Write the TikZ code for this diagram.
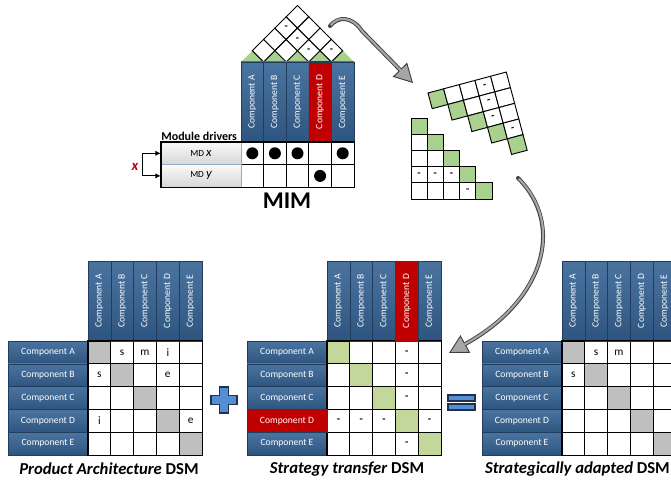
\documentclass[tikz,border=0pt]{standalone}
\usepackage{fontspec}
\setmainfont{Carlito}
\usetikzlibrary{arrows.meta,positioning,calc}
\definecolor{hdrtop}{RGB}{74,116,160}
\definecolor{hdrbot}{RGB}{46,85,127}
\definecolor{hdrline}{RGB}{33,60,92}
\definecolor{hdrred}{RGB}{192,0,0}
\definecolor{roofgreen}{RGB}{169,208,142}
\definecolor{diaggreen}{RGB}{196,215,155}
\definecolor{diaggray}{RGB}{191,191,191}
\definecolor{signblue}{RGB}{85,142,213}
\definecolor{signline}{RGB}{30,50,80}
\definecolor{arrowgray}{RGB}{166,166,166}
\begin{document}
\begin{tikzpicture}[x=0.75pt, y=-0.75pt,
    hdr/.style={draw=hdrline, line width=0.4pt, top color=hdrtop, bottom color=hdrbot,
                text=white, font=\fontsize{7.2}{8}\selectfont, inner sep=0pt},
    colhdr/.style={hdr, rotate=90, minimum width=60pt, minimum height=17.1pt},
    rowhdr/.style={hdr, minimum width=60pt, minimum height=17.1pt},
    redhdr/.style={top color=hdrred, bottom color=hdrred},
    mdhdr/.style={draw=hdrtop!60, line width=0.4pt, top color=gray!4, bottom color=gray!32,
                  minimum width=60pt, minimum height=16.95pt, inner sep=0pt,
                  font=\fontsize{7}{8}\selectfont},
    cell/.style={draw, line width=0.7pt, minimum size=17.1pt, inner sep=0pt},
    mimcell/.style={cell, fill=white, minimum size=16.95pt},
    smallcell/.style={draw, line width=0.7pt, minimum size=12.15pt, inner sep=0pt},
    frame/.style={draw, line width=1.2pt},
    roofcell/.style={draw, line width=0.7pt, fill=white},
    entry/.style={font=\fontsize{8.5}{9}\selectfont, inner sep=0pt},
    dashmark/.style={font=\bfseries\fontsize{8}{9}\selectfont, inner sep=0pt},
    dot/.style={circle, fill=black, minimum size=9pt, inner sep=0pt},
    bracket/.style={{Latex[length=4pt,width=4pt]}-{Latex[length=4pt,width=4pt]}, line width=0.9pt},
    caption/.style={font=\bfseries\fontsize{12.5}{15}\selectfont, inner sep=0pt},
    sign/.style={draw=signline, line width=0.8pt, fill=signblue},
    arrowout/.style={draw=black!75, line width=3pt, line cap=round,
                     -{Triangle[length=14pt, width=15pt, fill=arrowgray, line width=0.7pt]}},
    arrowin/.style={draw=arrowgray, line width=1.6pt, shorten <=0.8pt, shorten >=13pt}
  ]
  \clip (0,0) rectangle (671,481);

  \foreach \m/\xo/\dc in {p/88/diaggray, s/327/diaggreen, a/562/diaggray}{
    \foreach \n [count=\i] in {A,...,E}{
      \node[colhdr] (\m c-\i) at (\xo+22.8*\i-11.4,301) {Component \n};
      \node[rowhdr] (\m r-\i) at (\xo-40,341+22.8*\i-11.4) {Component \n};
      \foreach \c in {1,...,5}{
        \ifnum\i=\c\relax\def\cf{\dc}\else\def\cf{white}\fi
        \node[cell, fill=\cf] (\m-\i-\c) at (\xo+22.8*\c-11.4,341+22.8*\i-11.4) {};
      }
    }
    \draw[frame] (\m-1-1.north west) rectangle (\m-5-5.south east);
  }
  \node[colhdr, redhdr] (sc-4) at (sc-4) {Component D};
  \node[rowhdr, redhdr] (sr-4) at (sr-4) {Component D};

  \foreach \r/\c/\t in {1/2/s, 1/3/m, 1/4/i, 2/1/s, 2/4/e, 4/1/i, 4/5/e}
    \node[entry] (pt-\r-\c) at (p-\r-\c) {\t};
  \foreach \r/\c in {1/4, 2/4, 3/4, 5/4, 4/1, 4/2, 4/3, 4/5}
    \node[dashmark] (st-\r-\c) at (s-\r-\c) {-};
  \foreach \r/\c/\t in {1/2/s, 1/3/m, 2/1/s}
    \node[entry] (at-\r-\c) at (a-\r-\c) {\t};

  \node[caption] (pcap) at (109,469) {\textit{Product Architecture} DSM};
  \node[caption] (scap) at (347,469) {\textit{Strategy transfer} DSM};
  \node[caption, anchor=east] (acap) at (670,469) {\textit{Strategically adapted} DSM};

  \draw[sign] (219.5,387) -- ++(9,0) -- ++(0,8.5) -- ++(8.5,0) -- ++(0,9) -- ++(-8.5,0)
    -- ++(0,8.5) -- ++(-9,0) -- ++(0,-8.5) -- ++(-8.5,0) -- ++(0,-9) -- ++(8.5,0) -- cycle;
  \draw[sign] (448,395) rectangle (475,401);
  \draw[sign] (448,404) rectangle (475,410);

  \foreach \i in {1,...,5}
    \fill[roofgreen] (241+22.6*\i-22.6,62) -- ++(11.3,-11.3) -- ++(11.3,11.3) -- cycle;
  \foreach \i in {1,...,4}{
    \pgfmathtruncatemacro{\jst}{\i+1}
    \foreach \j in {\jst,...,5}{
      \pgfmathsetmacro{\rx}{241+11.3*(\i+\j-1)}
      \pgfmathsetmacro{\ry}{62-11.3*(\j-\i)}
      \draw[roofcell] (\rx-11.3,\ry) -- (\rx,\ry-11.3) -- (\rx+11.3,\ry) -- (\rx,\ry+11.3) -- cycle;
    }
  }
  \foreach \i/\j in {1/4, 2/4, 3/4, 4/5}
    \node[dashmark] (rd-\i-\j) at (241+11.3*\i+11.3*\j-11.3, 62-11.3*\j+11.3*\i) {-};

  \foreach \n [count=\i] in {A,...,E}{
    \node[colhdr, minimum height=16.95pt] (mc-\i) at (241+22.6*\i-11.3,102) {Component \n};
    \node[mimcell] (mx-\i) at (241+22.6*\i-11.3,153.3) {};
    \node[mimcell] (my-\i) at (241+22.6*\i-11.3,175.9) {};
  }
  \node[colhdr, redhdr, minimum height=16.95pt] (mc-4) at (mc-4) {Component D};
  \node[mdhdr] (mdx) at (201,153.3) {MD {\fontsize{9.5}{10}\selectfont\itshape x}};
  \node[mdhdr] (mdy) at (201,175.9) {MD {\fontsize{9.5}{10}\selectfont\itshape y}};
  \draw[frame] (mdx.north west) rectangle (my-5.south east);
  \foreach \i in {1,2,3,5}
    \node[dot] (dx-\i) at (mx-\i) {};
  \node[dot] (dy-4) at (my-4) {};
  \node[font=\bfseries\fontsize{9}{10}\selectfont, anchor=south east, inner sep=1pt]
    (mdlabel) at ([xshift=-2pt]mdx.north east) {Module drivers};
  \draw[bracket] (mdx.west) -- ++(-18,0) |- (mdy.west);
  \node[text=hdrred, font=\bfseries\itshape\fontsize{11}{12}\selectfont] (xlbl) at (135,167) {x};
  \node[font=\bfseries\fontsize{18}{20}\selectfont] (mimlbl) at (287,201) {MIM};

  \foreach \r in {1,...,5}
    \foreach \c in {1,...,\r}{
      \ifnum\r=\c\relax\def\cf{roofgreen}\else\def\cf{white}\fi
      \node[smallcell, fill=\cf] (lt-\r-\c) at (411+16.2*\c-8.1,118+16.2*\r-8.1) {};
    }
  \foreach \r/\c in {4/1, 4/2, 4/3, 5/4}
    \node[dashmark] (ltd-\r-\c) at (lt-\r-\c) {-};

  \begin{scope}[shift={(428,93)}, rotate=15, transform shape]
    \foreach \r in {1,...,5}
      \foreach \c in {\r,...,5}{
        \ifnum\r=\c\relax\def\cf{roofgreen}\else\def\cf{white}\fi
        \node[smallcell, fill=\cf] (ut-\r-\c) at (16.2*\c-8.1,16.2*\r-8.1) {};
      }
    \foreach \r/\c in {1/4, 2/4, 3/4, 4/5}
      \node[dashmark] (utd-\r-\c) at (ut-\r-\c) {-};
  \end{scope}

  \coordinate (roofout) at (330,26);
  \coordinate (rotin) at (413,83);
  \coordinate (triout) at (518,178);
  \coordinate (dsmin) at (449,353);
  \draw[arrowout] (roofout) .. controls (338,16) and (352,16) .. (362,31) -- (rotin);
  \draw[arrowin] (roofout) .. controls (338,16) and (352,16) .. (362,31) -- (rotin);
  \draw[arrowout] (triout) .. controls (565,225) and (545,300) .. (dsmin);
  \draw[arrowin] (triout) .. controls (565,225) and (545,300) .. (dsmin);
\end{tikzpicture}
\end{document}
